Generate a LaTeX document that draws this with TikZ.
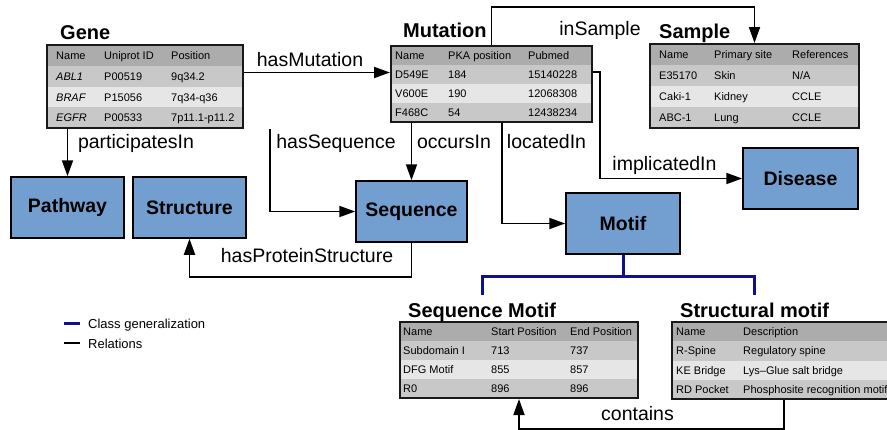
\documentclass[tikz,border=0pt]{standalone}
\usepackage{fontspec}
\setmainfont{Liberation Sans}
\usetikzlibrary{arrows.meta,calc}
\definecolor{boxblue}{RGB}{114,159,207}
\definecolor{genblue}{RGB}{16,16,138}
\definecolor{hdr}{RGB}{172,172,172}
\definecolor{rowa}{RGB}{200,200,200}
\definecolor{rowb}{RGB}{230,230,230}
\begin{document}
\begin{tikzpicture}[x=1pt,y=-1pt,
  rel/.style={line width=1.8pt,-{Triangle[length=16pt,width=11pt]}},
  relplain/.style={line width=1.8pt},
  gen/.style={line width=3pt,draw=genblue},
  classbox/.style={draw=black,line width=1.5pt,fill=boxblue,inner sep=0pt,
    minimum width=#1,minimum height=61pt,font=\bfseries\fontsize{19.5}{22}\selectfont},
  tblframe/.style={draw=black!90,line width=2pt,inner sep=0pt},
  ttl/.style={anchor=base west,inner sep=0pt,font=\bfseries\fontsize{20}{22}\selectfont},
  lbl/.style={anchor=base,inner sep=0pt,font=\fontsize{19.5}{22}\selectfont},
  tt/.style={anchor=base west,inner sep=0pt,text=black,font=\fontsize{11}{13}\selectfont},
  leg/.style={anchor=base west,inner sep=0pt,font=\fontsize{13}{15}\selectfont}]
\useasboundingbox (0,0) rectangle (887,429);
\clip (0,0) rectangle (887,429);

% ---------- Gene table ----------
\foreach \c [count=\i from 0] in {hdr,rowa,rowb,rowa}
  \fill[\c] (47,{45+\i*20.75}) rectangle (243,{45+(\i+1)*20.75});
\foreach \a/\b/\c [count=\i from 0] in {Name/Uniprot ID/Position,\textit{ABL1}/P00519/9q34.2,\textit{BRAF}/P15056/7q34-q36,\textit{EGFR}/P00533/7p11.1-p11.2}{
  \node[tt] (g\i a) at (56,{55.5+\i*20.75+4}) {\a};
  \node[tt] (g\i b) at (104,{55.5+\i*20.75+4}) {\b};
  \node[tt] (g\i c) at (171,{55.5+\i*20.75+4}) {\c};
}
\node[tblframe,minimum width=196pt,minimum height=83pt] (gene) at (145,86.5) {};
\node[ttl] (genet) at (60,39) {Gene};

% ---------- Mutation table ----------
\foreach \c [count=\i from 0] in {hdr,rowa,rowb,rowa}
  \fill[\c] (391,{46+\i*19}) rectangle (592,{46+(\i+1)*19});
\foreach \a/\b/\c [count=\i from 0] in {Name/PKA position/Pubmed,D549E/184/15140228,V600E/190/12068308,F468C/54/12438234}{
  \node[tt] (m\i a) at (395,{55.5+\i*19+4}) {\a};
  \node[tt] (m\i b) at (448,{55.5+\i*19+4}) {\b};
  \node[tt] (m\i c) at (528,{55.5+\i*19+4}) {\c};
}
\node[tblframe,minimum width=201pt,minimum height=76pt] (mut) at (491.5,84) {};
\node[ttl] (mutt) at (403,37) {Mutation};

% ---------- Sample table ----------
\foreach \c [count=\i from 0] in {hdr,rowa,rowb,rowa}
  \fill[\c] (650,{44+\i*21}) rectangle (859,{44+(\i+1)*21});
\foreach \a/\b/\c [count=\i from 0] in {Name/Primary site/References,E35170/Skin/N\slash A,Caki-1/Kidney/CCLE,ABC-1/Lung/CCLE}{
  \node[tt] (s\i a) at (659,{54.5+\i*21+4}) {\a};
  \node[tt] (s\i b) at (714,{54.5+\i*21+4}) {\b};
  \node[tt] (s\i c) at (792,{54.5+\i*21+4}) {\c};
}
\node[tblframe,minimum width=209pt,minimum height=84pt] (samp) at (754.5,86) {};
\node[ttl] (sampt) at (659,38) {Sample};

% ---------- Sequence Motif table ----------
\foreach \c [count=\i from 0] in {hdr,rowa,rowb,rowa}
  \fill[\c] (400,{322+\i*19}) rectangle (638,{322+(\i+1)*19});
\foreach \a/\b/\c [count=\i from 0] in {Name/Start Position/End Position,Subdomain I/713/737,DFG Motif/855/857,R0/896/896}{
  \node[tt] (q\i a) at (403,{331.5+\i*19+4}) {\a};
  \node[tt] (q\i b) at (491,{331.5+\i*19+4}) {\b};
  \node[tt] (q\i c) at (570,{331.5+\i*19+4}) {\c};
}
\node[tblframe,minimum width=238pt,minimum height=76pt] (seqm) at (519,360) {};
\node[ttl] (seqmt) at (408,317) {Sequence Motif};

% ---------- Structural motif table ----------
\foreach \c [count=\i from 0] in {hdr,rowa,rowb,rowa}
  \fill[\c] (672,{322+\i*19.25}) rectangle (905,{322+(\i+1)*19.25});
\foreach \a/\b [count=\i from 0] in {Name/Description,R-Spine/Regulatory spine,KE Bridge/Lys–Glue salt bridge,RD Pocket/Phosphosite recognition motif}{
  \node[tt] (r\i a) at (676,{331.5+\i*19.25+4}) {\a};
  \node[tt] (r\i b) at (743,{331.5+\i*19.25+4}) {\b};
}
\node[tblframe,minimum width=233pt,minimum height=77pt] (strm) at (788.5,360.5) {};
\node[ttl] (strmt) at (680,317) {Structural motif};

% ---------- class boxes ----------
\node[classbox=113pt] (pathway) at (67.5,207.5) {Pathway};
\node[classbox=113pt] (structure) at (189.5,207.5) {Structure};
\node[classbox=111pt] (sequence) at (411.5,211.5) {Sequence};
\node[classbox=114pt] (motif) at (623,223.5) {Motif};
\node[classbox=115pt] (disease) at (800.5,178.5) {Disease};

% ---------- relations ----------
\draw[rel] ([yshift=14pt]gene.east) -- ([yshift=14pt]gene.east -| mut.west);
\node[lbl] (lhasmut) at (310,66) {hasMutation};

\draw[rel] (mut.north) |- ++(0,-38) -| (samp.north);
\node[lbl] (linsample) at (600,35) {inSample};

\draw[rel] ([yshift=12pt]mut.east) -- ++(7,0) |- (disease.west);
\node[lbl] (limpl) at (664.5,170) {implicatedIn};

\draw[rel] ([xshift=10.5pt]mut.south) |- (motif.west);
\node[lbl] (lloc) at (546.5,148) {locatedIn};

\draw[rel] (mut.south -| sequence.north) -- (sequence.north);
\node[lbl] (locc) at (454,148) {occursIn};

\draw[rel] ([xshift=125pt]gene.south) |- (sequence.west);
\node[lbl] (lhasseq) at (336,148) {hasSequence};

\draw[rel] (gene.south -| pathway.north) -- (pathway.north);
\node[lbl] (lpart) at (136,148) {participatesIn};

\draw[rel] (sequence.south) -- ++(0,34) -| (structure.south);
\node[lbl] (lhps) at (307,262) {hasProteinStructure};

\draw[rel] ([xshift=-4.5pt]strm.south) -- ++(0,29) -| (seqm.south);
\node[lbl] (lcont) at (637.5,420) {contains};

% ---------- generalization ----------
\coordinate (gl) at (482,295);
\coordinate (gr) at (754,295);
\draw[gen] (motif.south) -- ++(0,21.5) coordinate (gm);
\draw[gen] (gl) |- (gm) -| (gr);

% ---------- legend ----------
\coordinate (lb1) at (64,323);
\coordinate (lb2) at (80,323);
\coordinate (lk1) at (64,343);
\coordinate (lk2) at (80,343);
\draw[gen] (lb1) -- (lb2);
\draw[relplain] (lk1) -- (lk2);
\node[leg] (legg) at (88,328) {Class generalization};
\node[leg] (legr) at (88,348) {Relations};
\end{tikzpicture}
\end{document}
